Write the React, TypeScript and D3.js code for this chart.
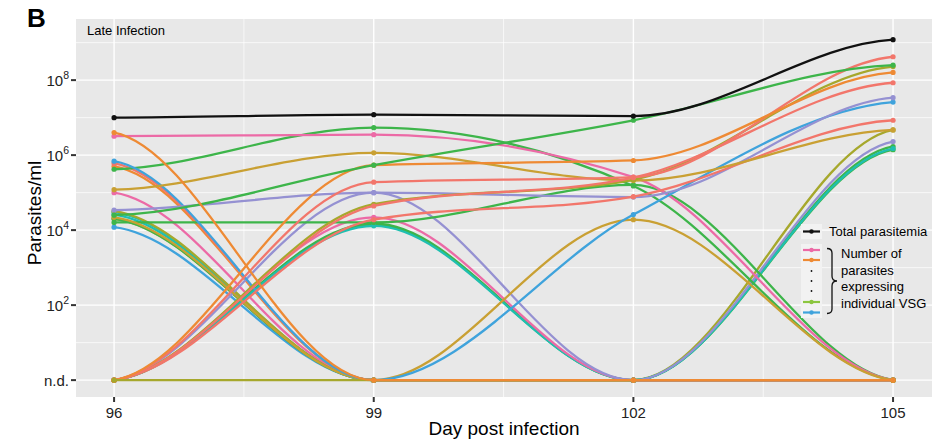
import React from 'react';
import * as d3 from 'd3';

// sampling days and measured densities (parasites/ml, 0 = not detected)
const DAYS = [96, 99, 102, 105];
const TOTAL = [1.0e7, 1.2e7, 1.1e7, 1.2e9];

const vsgGreenA = [2.5e4, 5.4e5, 8.5e6, 2.5e8];
const vsgOrangeA = [0, 5.4e5, 7.2e5, 1.6e8];
const vsgSalmonA = [0, 1.9e5, 2.6e5, 4.2e8];
const vsgSalmonB = [0, 4.4e4, 2.5e5, 8.5e7];
const vsgOliveA = [0, 4.9e4, 2.2e5, 2.3e8];
const vsgGoldA = [1.2e5, 1.15e6, 2.1e5, 4.7e6];
const vsgSalmonC = [0, 1.9e4, 7.8e4, 8.5e6];
const vsgPurpleA = [3.4e4, 1.0e5, 7.6e4, 3.4e7];
const vsgBlueA = [6.9e5, 0, 2.6e4, 2.6e7];
const vsgGoldB = [2.2e4, 0, 1.9e4, 0];
const vsgPinkA = [3.2e6, 3.5e6, 2.6e5, 0];
const vsgGreenB = [4.2e5, 5.4e6, 1.5e5, 0];
const vsgGreenC = [1.6e4, 1.6e4, 1.6e5, 0];
const vsgPurpleB = [0, 1.0e5, 0, 2.3e6];
const vsgPinkB = [0, 2.2e4, 0, 0];
const vsgTealA = [0, 1.3e4, 0, 1.5e6];
const vsgGreenD = [0, 1.5e4, 0, 1.7e6];
const vsgGreenE = [0, 1.4e4, 0, 1.4e6];
const vsgOliveB = [3.2e4, 0, 0, 4.7e6];
const vsgOrangeB = [4.0e6, 0, 0, 0];
const vsgSalmonD = [6.0e5, 0, 0, 0];
const vsgOrangeC = [5.0e5, 0, 0, 0];
const vsgPinkC = [1.0e5, 0, 0, 0];
const vsgTealB = [3.0e4, 0, 0, 0];
const vsgTealC = [2.6e4, 0, 0, 0];
const vsgGreenF = [2.0e4, 0, 0, 0];
const vsgBlueB = [1.2e4, 0, 0, 0];
const vsgGoldC = [2.0e4, 0, 0, 0];
const vsgOliveC = [0, 0, 0, 0];

const C = {
  salmon: '#F2766B',
  orange: '#EE8A34',
  gold: '#C9A033',
  olive: '#A6A82C',
  lime: '#8CC63F',
  green: '#3DB54A',
  teal: '#1FBFB0',
  blue: '#3FA3DC',
  purple: '#9591D2',
  pink: '#EC6AA6',
};

const VSG_LINES = [
  { color: C.gold, values: vsgGoldC },
  { color: C.blue, values: vsgBlueB },
  { color: C.green, values: vsgGreenF },
  { color: C.teal, values: vsgTealC },
  { color: C.teal, values: vsgTealB },
  { color: C.pink, values: vsgPinkC },
  { color: C.orange, values: vsgOrangeC },
  { color: C.salmon, values: vsgSalmonD },
  { color: C.olive, values: vsgOliveB },
  { color: C.green, values: vsgGreenE },
  { color: C.green, values: vsgGreenD },
  { color: C.teal, values: vsgTealA },
  { color: C.pink, values: vsgPinkB },
  { color: C.purple, values: vsgPurpleB },
  { color: C.green, values: vsgGreenC },
  { color: C.green, values: vsgGreenB },
  { color: C.pink, values: vsgPinkA },
  { color: C.gold, values: vsgGoldB },
  { color: C.blue, values: vsgBlueA },
  { color: C.purple, values: vsgPurpleA },
  { color: C.salmon, values: vsgSalmonC },
  { color: C.gold, values: vsgGoldA },
  { color: C.olive, values: vsgOliveA },
  { color: C.salmon, values: vsgSalmonB },
  { color: C.salmon, values: vsgSalmonA },
  { color: C.orange, values: vsgOrangeA },
  { color: C.green, values: vsgGreenA },
  { color: C.olive, values: vsgOliveC },
  { color: C.orange, values: vsgOrangeB },
];

const Y_MAJOR = [1, 1e2, 1e4, 1e6, 1e8];
const Y_LABELS = ['n.d.', '2', '4', '6', '8'];
const Y_MINOR = [10, 1e3, 1e5, 1e7, 1e9];
const X_MINOR = [97.5, 100.5, 103.5];

const WIDTH = 950;
const HEIGHT = 441;
const FONT = '"Liberation Sans", Arial, Helvetica, sans-serif';

const x = d3.scaleLinear().domain([95.56, 105.45]).range([76, 932]);
const y = d3.scaleLog().domain([Math.pow(10, -0.45), Math.pow(10, 9.63)]).range([397, 19]);

const yOf = (v: number) => y(v > 0 ? v : 1);

// monotone cubic (same interior tangents as d3.curveMonotoneX) but with
// nearly flat ends, which is closer to the spline used in the figure
const smoothPath = (values: number[]) => {
  const px = DAYS.map(d => x(d));
  const py = values.map(yOf);
  const n = px.length;
  const s: number[] = [];
  for (let i = 0; i < n - 1; i++) s.push((py[i + 1] - py[i]) / (px[i + 1] - px[i]));
  const m: number[] = new Array(n).fill(0);
  for (let i = 1; i < n - 1; i++) {
    const h0 = px[i] - px[i - 1];
    const h1 = px[i + 1] - px[i];
    const p = (s[i - 1] * h1 + s[i] * h0) / (h0 + h1);
    m[i] = (Math.sign(s[i - 1]) + Math.sign(s[i])) * Math.min(Math.abs(s[i - 1]), Math.abs(s[i]), 0.5 * Math.abs(p)) || 0;
  }
  m[0] = 0.2 * s[0];
  m[n - 1] = 0.2 * s[n - 2];
  const path = d3.path();
  path.moveTo(px[0], py[0]);
  for (let i = 0; i < n - 1; i++) {
    const dx = (px[i + 1] - px[i]) / 3;
    path.bezierCurveTo(px[i] + dx, py[i] + m[i] * dx, px[i + 1] - dx, py[i + 1] - m[i + 1] * dx, px[i + 1], py[i + 1]);
  }
  return path.toString();
};

const Series = ({ values, color }: { values: number[]; color: string }) => (
  <g>
    <path d={smoothPath(values)} fill="none" stroke={color} strokeWidth={2.3} />
    {values.map((v, i) => (
      <circle key={i} cx={x(DAYS[i])} cy={yOf(v)} r={2.6} fill={color} />
    ))}
  </g>
);

const App = () => {
  const [x0, x1] = x.range();
  const [yb, yt] = y.range();

  return (
    <div style={{ position: 'absolute', left: 0, top: 0 }}>
      <svg width={WIDTH} height={HEIGHT} style={{ display: 'block', background: '#fff' }} fontFamily={FONT}>
        <text x={27} y={27} fontSize={26} fontWeight="bold">B</text>

        {/* panel */}
        <rect x={x0} y={yt} width={x1 - x0} height={yb - yt} fill="#E8E8E8" />
        {Y_MINOR.map(v => (
          <line key={'ym' + v} x1={x0} x2={x1} y1={y(v)} y2={y(v)} stroke="#fff" strokeWidth={0.7} />
        ))}
        {X_MINOR.map(d => (
          <line key={'xm' + d} x1={x(d)} x2={x(d)} y1={yt} y2={yb} stroke="#fff" strokeWidth={0.7} />
        ))}
        {Y_MAJOR.map(v => (
          <line key={'yM' + v} x1={x0} x2={x1} y1={y(v)} y2={y(v)} stroke="#fff" strokeWidth={1.4} />
        ))}
        {DAYS.map(d => (
          <line key={'xM' + d} x1={x(d)} x2={x(d)} y1={yt} y2={yb} stroke="#fff" strokeWidth={1.4} />
        ))}

        <text x={87} y={35} fontSize={13}>Late Infection</text>

        {VSG_LINES.map((s, i) => (
          <Series key={i} values={s.values} color={s.color} />
        ))}
        <Series values={TOTAL} color="#111" />

        {/* legend */}
        <rect x={801} y={224} width={21} height={15} fill="#F2F2F2" />
        <line x1={803} x2={820} y1={231.5} y2={231.5} stroke="#111" strokeWidth={2.2} />
        <circle cx={811.5} cy={231.5} r={2.2} fill="#111" />
        <text x={829} y={236} fontSize={13}>Total parasitemia</text>

        <rect x={801} y={244} width={21} height={74} fill="#F2F2F2" />
        {[
          { c: C.pink, yy: 250 },
          { c: C.orange, yy: 260 },
          { c: C.lime, yy: 302 },
          { c: C.blue, yy: 312.5 },
        ].map(k => (
          <g key={k.yy}>
            <line x1={803} x2={820} y1={k.yy} y2={k.yy} stroke={k.c} strokeWidth={2.2} />
            <circle cx={811.5} cy={k.yy} r={2.2} fill={k.c} />
          </g>
        ))}
        {[271, 281, 291].map(yy => (
          <circle key={yy} cx={811.5} cy={yy} r={0.9} fill="#111" />
        ))}
        <path
          d="M827,248.5 Q832,248.5 832,253 L832,276 Q832,281 837,281 Q832,281 832,286 L832,309 Q832,313.5 827,313.5"
          fill="none"
          stroke="#111"
          strokeWidth={1.3}
        />
        {['Number of', 'parasites', 'expressing', 'individual VSG'].map((t, i) => (
          <text key={t} x={841} y={258 + i * 16.5} fontSize={13}>{t}</text>
        ))}

        {/* y axis */}
        {Y_MAJOR.map((v, i) => (
          <g key={'yt' + v}>
            <line x1={71} x2={76} y1={y(v)} y2={y(v)} stroke="#333" strokeWidth={2} />
            {i === 0 ? (
              <text x={69} y={y(v) + 5.5} fontSize={15} textAnchor="end" fill="#222">n.d.</text>
            ) : (
              <text x={69} y={y(v) + 6} fontSize={15} textAnchor="end" fill="#222">
                <tspan>10</tspan>
                <tspan dy={-7} fontSize={10.5}>{Y_LABELS[i]}</tspan>
              </text>
            )}
          </g>
        ))}
        <text transform={`translate(41,${(yb + yt) / 2 + 5}) rotate(-90)`} fontSize={19} textAnchor="middle">
          Parasites/ml
        </text>

        {/* x axis */}
        {DAYS.map(d => (
          <g key={'xt' + d}>
            <line x1={x(d)} x2={x(d)} y1={397} y2={402} stroke="#333" strokeWidth={2} />
            <text x={x(d)} y={418} fontSize={15} textAnchor="middle" fill="#222">{d}</text>
          </g>
        ))}
        <text x={(x0 + x1) / 2} y={435} fontSize={19} textAnchor="middle">Day post infection</text>
      </svg>
    </div>
  );
};

export default App;
